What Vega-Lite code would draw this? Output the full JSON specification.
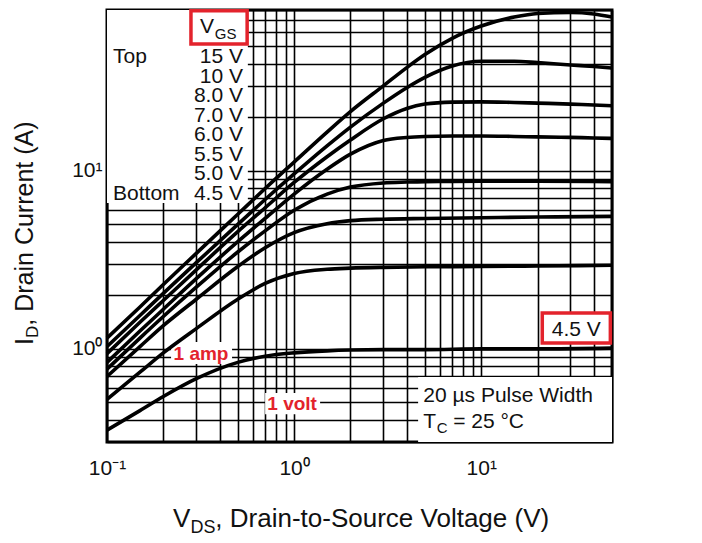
{
  "$schema": "https://vega.github.io/schema/vega-lite/v6.json",
  "width": 505,
  "height": 432,
  "autosize": {"type": "none"},
  "padding": {"left": 107, "top": 10, "right": 90, "bottom": 101},
  "background": "white",
  "config": {
    "view": {"stroke": "black", "strokeWidth": 3},
    "font": "Liberation Sans",
    "text": {"font": "Liberation Sans", "color": "#111111"}
  },
  "datasets": {
    "whiteBoxes": [
      {"x": 0.1, "x2": 0.566, "y": 6.6, "y2": 80},
      {"x": 4.6, "x2": 50, "y": 0.3, "y2": 0.695},
      {"x": 0.22, "x2": 0.466, "y": 0.822, "y2": 1.094},
      {"x": 0.7, "x2": 1.377, "y": 0.43, "y2": 0.565}
    ],
    "redBoxes": [
      {"x": 0.281, "x2": 0.561, "y": 51.6, "y2": 79.1},
      {"x": 21.2, "x2": 49, "y": 1.08, "y2": 1.59}
    ],
    "curves": [
      {"s": "15 V", "x": 0.1, "y": 1.15}, {"s": "15 V", "x": 0.15, "y": 1.72}, {"s": "15 V", "x": 0.2, "y": 2.3}, {"s": "15 V", "x": 0.3, "y": 3.44}, {"s": "15 V", "x": 0.5, "y": 5.7}, {"s": "15 V", "x": 0.7, "y": 7.95}, {"s": "15 V", "x": 1, "y": 11.2}, {"s": "15 V", "x": 1.5, "y": 16.5}, {"s": "15 V", "x": 2, "y": 21.5}, {"s": "15 V", "x": 3, "y": 30}, {"s": "15 V", "x": 4, "y": 38}, {"s": "15 V", "x": 5, "y": 45}, {"s": "15 V", "x": 7, "y": 55.5}, {"s": "15 V", "x": 10, "y": 65}, {"s": "15 V", "x": 15, "y": 73}, {"s": "15 V", "x": 20, "y": 76.5}, {"s": "15 V", "x": 30, "y": 77.5}, {"s": "15 V", "x": 40, "y": 76}, {"s": "15 V", "x": 50, "y": 73},
      {"s": "10 V", "x": 0.1, "y": 1.03}, {"s": "10 V", "x": 0.15, "y": 1.54}, {"s": "10 V", "x": 0.2, "y": 2.05}, {"s": "10 V", "x": 0.3, "y": 3.05}, {"s": "10 V", "x": 0.5, "y": 5.0}, {"s": "10 V", "x": 0.7, "y": 6.9}, {"s": "10 V", "x": 1, "y": 9.6}, {"s": "10 V", "x": 1.5, "y": 13.8}, {"s": "10 V", "x": 2, "y": 17.6}, {"s": "10 V", "x": 3, "y": 24.0}, {"s": "10 V", "x": 4, "y": 29.3}, {"s": "10 V", "x": 5, "y": 33.5}, {"s": "10 V", "x": 7, "y": 38.8}, {"s": "10 V", "x": 10, "y": 41.2}, {"s": "10 V", "x": 15, "y": 41.2}, {"s": "10 V", "x": 20, "y": 40.5}, {"s": "10 V", "x": 30, "y": 39.3}, {"s": "10 V", "x": 40, "y": 38.5}, {"s": "10 V", "x": 50, "y": 37.8},
      {"s": "8.0 V", "x": 0.1, "y": 0.94}, {"s": "8.0 V", "x": 0.15, "y": 1.41}, {"s": "8.0 V", "x": 0.2, "y": 1.87}, {"s": "8.0 V", "x": 0.3, "y": 2.78}, {"s": "8.0 V", "x": 0.5, "y": 4.55}, {"s": "8.0 V", "x": 0.7, "y": 6.2}, {"s": "8.0 V", "x": 1, "y": 8.6}, {"s": "8.0 V", "x": 1.5, "y": 12.0}, {"s": "8.0 V", "x": 2, "y": 14.9}, {"s": "8.0 V", "x": 3, "y": 19.6}, {"s": "8.0 V", "x": 4, "y": 22.4}, {"s": "8.0 V", "x": 5, "y": 23.7}, {"s": "8.0 V", "x": 7, "y": 24.3}, {"s": "8.0 V", "x": 10, "y": 24.4}, {"s": "8.0 V", "x": 15, "y": 24.2}, {"s": "8.0 V", "x": 20, "y": 24.0}, {"s": "8.0 V", "x": 30, "y": 23.7}, {"s": "8.0 V", "x": 40, "y": 23.4}, {"s": "8.0 V", "x": 50, "y": 23.2},
      {"s": "7.0 V", "x": 0.1, "y": 0.84}, {"s": "7.0 V", "x": 0.15, "y": 1.26}, {"s": "7.0 V", "x": 0.2, "y": 1.67}, {"s": "7.0 V", "x": 0.3, "y": 2.48}, {"s": "7.0 V", "x": 0.5, "y": 4.0}, {"s": "7.0 V", "x": 0.7, "y": 5.4}, {"s": "7.0 V", "x": 1, "y": 7.4}, {"s": "7.0 V", "x": 1.5, "y": 10.2}, {"s": "7.0 V", "x": 2, "y": 12.4}, {"s": "7.0 V", "x": 3, "y": 14.8}, {"s": "7.0 V", "x": 4, "y": 15.4}, {"s": "7.0 V", "x": 5, "y": 15.6}, {"s": "7.0 V", "x": 7, "y": 15.7}, {"s": "7.0 V", "x": 10, "y": 15.7}, {"s": "7.0 V", "x": 15, "y": 15.6}, {"s": "7.0 V", "x": 20, "y": 15.5}, {"s": "7.0 V", "x": 30, "y": 15.4}, {"s": "7.0 V", "x": 40, "y": 15.3}, {"s": "7.0 V", "x": 50, "y": 15.2},
      {"s": "6.0 V", "x": 0.1, "y": 0.77}, {"s": "6.0 V", "x": 0.15, "y": 1.15}, {"s": "6.0 V", "x": 0.2, "y": 1.52}, {"s": "6.0 V", "x": 0.3, "y": 2.22}, {"s": "6.0 V", "x": 0.5, "y": 3.5}, {"s": "6.0 V", "x": 0.7, "y": 4.6}, {"s": "6.0 V", "x": 1, "y": 6.0}, {"s": "6.0 V", "x": 1.5, "y": 7.4}, {"s": "6.0 V", "x": 2, "y": 8.1}, {"s": "6.0 V", "x": 3, "y": 8.55}, {"s": "6.0 V", "x": 4, "y": 8.65}, {"s": "6.0 V", "x": 5, "y": 8.7}, {"s": "6.0 V", "x": 7, "y": 8.72}, {"s": "6.0 V", "x": 10, "y": 8.75}, {"s": "6.0 V", "x": 20, "y": 8.75}, {"s": "6.0 V", "x": 50, "y": 8.7},
      {"s": "5.5 V", "x": 0.1, "y": 0.7}, {"s": "5.5 V", "x": 0.15, "y": 1.03}, {"s": "5.5 V", "x": 0.2, "y": 1.35}, {"s": "5.5 V", "x": 0.3, "y": 1.9}, {"s": "5.5 V", "x": 0.5, "y": 2.9}, {"s": "5.5 V", "x": 0.7, "y": 3.7}, {"s": "5.5 V", "x": 1, "y": 4.5}, {"s": "5.5 V", "x": 1.5, "y": 5.05}, {"s": "5.5 V", "x": 2, "y": 5.25}, {"s": "5.5 V", "x": 3, "y": 5.35}, {"s": "5.5 V", "x": 5, "y": 5.4}, {"s": "5.5 V", "x": 10, "y": 5.45}, {"s": "5.5 V", "x": 20, "y": 5.5}, {"s": "5.5 V", "x": 50, "y": 5.55},
      {"s": "5.0 V", "x": 0.1, "y": 0.52}, {"s": "5.0 V", "x": 0.15, "y": 0.74}, {"s": "5.0 V", "x": 0.2, "y": 0.95}, {"s": "5.0 V", "x": 0.3, "y": 1.3}, {"s": "5.0 V", "x": 0.5, "y": 1.9}, {"s": "5.0 V", "x": 0.7, "y": 2.33}, {"s": "5.0 V", "x": 1, "y": 2.65}, {"s": "5.0 V", "x": 1.5, "y": 2.8}, {"s": "5.0 V", "x": 2, "y": 2.84}, {"s": "5.0 V", "x": 3, "y": 2.87}, {"s": "5.0 V", "x": 5, "y": 2.89}, {"s": "5.0 V", "x": 10, "y": 2.9}, {"s": "5.0 V", "x": 20, "y": 2.92}, {"s": "5.0 V", "x": 50, "y": 2.95},
      {"s": "4.5 V", "x": 0.1, "y": 0.35}, {"s": "4.5 V", "x": 0.15, "y": 0.45}, {"s": "4.5 V", "x": 0.2, "y": 0.54}, {"s": "4.5 V", "x": 0.3, "y": 0.68}, {"s": "4.5 V", "x": 0.5, "y": 0.84}, {"s": "4.5 V", "x": 0.7, "y": 0.91}, {"s": "4.5 V", "x": 1, "y": 0.95}, {"s": "4.5 V", "x": 1.5, "y": 0.975}, {"s": "4.5 V", "x": 2, "y": 0.985}, {"s": "4.5 V", "x": 3, "y": 0.99}, {"s": "4.5 V", "x": 5, "y": 0.99}, {"s": "4.5 V", "x": 10, "y": 1.0}, {"s": "4.5 V", "x": 20, "y": 1.0}, {"s": "4.5 V", "x": 50, "y": 1.01}
    ],
    "textRight": [
      {"x": 0.533, "y": 40.4, "t": "15 V"},
      {"x": 0.533, "y": 31.3, "t": "10 V"},
      {"x": 0.533, "y": 24.4, "t": "8.0 V"},
      {"x": 0.533, "y": 18.9, "t": "7.0 V"},
      {"x": 0.533, "y": 14.7, "t": "6.0 V"},
      {"x": 0.533, "y": 11.4, "t": "5.5 V"},
      {"x": 0.533, "y": 8.85, "t": "5.0 V"},
      {"x": 0.533, "y": 6.87, "t": "4.5 V"}
    ],
    "textLeft": [
      {"x": 0.1077, "y": 40.4, "t": "Top"},
      {"x": 0.1077, "y": 6.87, "t": "Bottom"},
      {"x": 0.314, "y": 59.5, "t": "V"},
      {"x": 4.9, "y": 0.504, "t": "20 µs Pulse Width"},
      {"x": 4.9, "y": 0.36, "t": "T"},
      {"x": 7.08, "y": 0.36, "t": "= 25 °C"}
    ],
    "textSub": [
      {"x": 0.377, "y": 55.1, "t": "GS"},
      {"x": 5.78, "y": 0.337, "t": "C"}
    ],
    "textCenter": [{"x": 32.2, "y": 1.18, "t": "4.5 V"}],
    "textRed": [
      {"x": 0.318, "y": 0.867, "t": "1 amp"},
      {"x": 0.976, "y": 0.454, "t": "1 volt"}
    ],
    "xTitle": [
      {"x": 0.2255, "y": 0.0999, "t": "V"},
      {"x": 0.3794, "y": 0.0999, "t": ", Drain-to-Source Voltage (V)"}
    ],
    "xTitleSub": [{"x": 0.279, "y": 0.0924, "t": "DS"}],
    "yTitle": [
      {"x": 0.0402, "y": 1.052, "t": "I"},
      {"x": 0.0402, "y": 1.35, "t": ", Drain Current (A)"}
    ],
    "yTitleSub": [{"x": 0.0428, "y": 1.152, "t": "D"}]
  },
  "encoding": {
    "x": {
      "field": "x",
      "type": "quantitative",
      "scale": {"type": "log", "domain": [0.1, 50], "nice": false},
      "axis": {
        "values": [0.1, 0.2, 0.3, 0.4, 0.5, 0.6, 0.7, 0.8, 0.9, 1, 2, 3, 4, 5, 6, 7, 8, 9, 10, 20, 30, 40, 50],
        "labelExpr": "datum.value === 0.1 ? '10⁻¹' : datum.value === 1 ? '10⁰' : datum.value === 10 ? '10¹' : ''",
        "grid": true, "gridColor": "black", "gridWidth": 1.6, "gridOpacity": 1,
        "ticks": false, "domain": false, "title": null,
        "labelFontSize": 21, "labelColor": "#111111", "labelPadding": 15,
        "labelFlush": false, "labelOverlap": false, "labelFont": "Liberation Sans"
      }
    },
    "y": {
      "field": "y",
      "type": "quantitative",
      "scale": {"type": "log", "domain": [0.3, 80], "nice": false},
      "axis": {
        "values": [0.3, 0.4, 0.5, 0.6, 0.7, 0.8, 0.9, 1, 2, 3, 4, 5, 6, 7, 8, 9, 10, 20, 30, 40, 50, 60, 70, 80],
        "labelExpr": "datum.value === 1 ? '10⁰' : datum.value === 10 ? '10¹' : ''",
        "grid": true, "gridColor": "black", "gridWidth": 1.6, "gridOpacity": 1,
        "ticks": false, "domain": false, "title": null,
        "labelFontSize": 21, "labelColor": "#111111", "labelPadding": 5,
        "labelFlush": false, "labelOverlap": false, "labelFont": "Liberation Sans"
      }
    }
  },
  "layer": [
    {
      "data": {"name": "whiteBoxes"},
      "mark": {"type": "rect", "fill": "white", "strokeWidth": 0},
      "encoding": {"x2": {"field": "x2"}, "y2": {"field": "y2"}}
    },
    {
      "data": {"name": "curves"},
      "mark": {"type": "line", "color": "black", "strokeWidth": 3.6, "interpolate": "monotone"},
      "encoding": {"detail": {"field": "s"}}
    },
    {
      "data": {"name": "redBoxes"},
      "mark": {"type": "rect", "fill": "white", "stroke": "#e3232c", "strokeWidth": 3.5},
      "encoding": {"x2": {"field": "x2"}, "y2": {"field": "y2"}}
    },
    {
      "data": {"name": "textRight"},
      "mark": {"type": "text", "align": "right", "baseline": "alphabetic", "fontSize": 21},
      "encoding": {"text": {"field": "t"}}
    },
    {
      "data": {"name": "textLeft"},
      "mark": {"type": "text", "align": "left", "baseline": "alphabetic", "fontSize": 21},
      "encoding": {"text": {"field": "t"}}
    },
    {
      "data": {"name": "textSub"},
      "mark": {"type": "text", "align": "left", "baseline": "alphabetic", "fontSize": 15},
      "encoding": {"text": {"field": "t"}}
    },
    {
      "data": {"name": "textCenter"},
      "mark": {"type": "text", "align": "center", "baseline": "alphabetic", "fontSize": 21},
      "encoding": {"text": {"field": "t"}}
    },
    {
      "data": {"name": "textRed"},
      "mark": {"type": "text", "align": "center", "baseline": "alphabetic", "fontSize": 19, "fontWeight": "bold", "color": "#e3232c"},
      "encoding": {"text": {"field": "t"}}
    },
    {
      "data": {"name": "xTitle"},
      "mark": {"type": "text", "align": "left", "baseline": "alphabetic", "fontSize": 26},
      "encoding": {"text": {"field": "t"}}
    },
    {
      "data": {"name": "xTitleSub"},
      "mark": {"type": "text", "align": "left", "baseline": "alphabetic", "fontSize": 18},
      "encoding": {"text": {"field": "t"}}
    },
    {
      "data": {"name": "yTitle"},
      "mark": {"type": "text", "align": "left", "baseline": "alphabetic", "fontSize": 25, "angle": 270},
      "encoding": {"text": {"field": "t"}}
    },
    {
      "data": {"name": "yTitleSub"},
      "mark": {"type": "text", "align": "left", "baseline": "alphabetic", "fontSize": 17, "angle": 270},
      "encoding": {"text": {"field": "t"}}
    }
  ]
}
